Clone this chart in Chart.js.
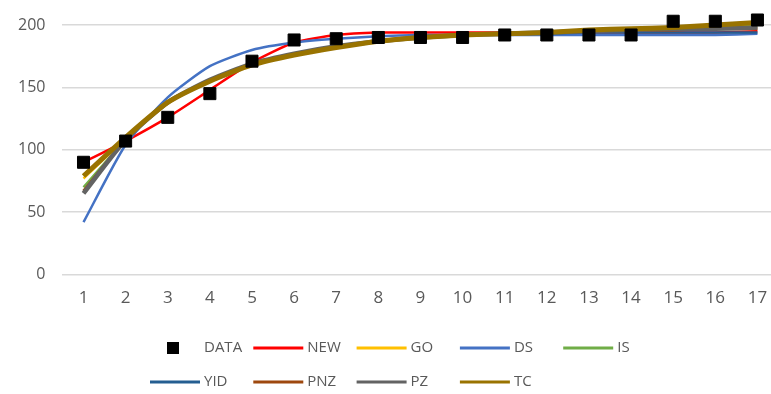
<!DOCTYPE html>
<html>
<head>
<meta charset="utf-8">
<script src="https://cdn.jsdelivr.net/npm/chart.js@4/dist/chart.umd.min.js"></script>
<style>
  html, body { margin: 0; padding: 0; background: #fff; overflow: hidden; }
  #wrap { width: 788px; height: 394px; }
</style>
</head>
<body>
<div id="wrap"><canvas id="myChart"></canvas></div>
<script>
const labels = ['1', '2', '3', '4', '5', '6', '7', '8', '9', '10', '11', '12', '13', '14', '15', '16', '17'];
const yTicks = [0, 50, 100, 150, 200];

const dataPts = [90, 107, 126, 145, 171, 188, 189, 190, 190, 190, 192, 192, 192, 192, 203, 203, 204];
const newFit = [90, 107, 126, 148, 170, 186, 192, 194, 194, 194, 194, 194, 194, 194, 194, 194, 195];
const goFit = [77, 109, 138, 155, 168, 176, 182, 187, 190, 192, 193, 194, 195, 196, 197, 199, 201];
const dsFit = [42, 104, 142, 167, 180, 186, 189, 191, 192, 192, 192, 192, 192, 192, 192, 192, 193];
const isFit = [70, 108, 138, 155, 168, 176, 182, 187, 190, 192, 193, 194, 195, 196, 197, 198, 199];
const yidFit = [66, 108, 138, 156, 169, 177, 183, 187, 190, 192, 193, 193, 194, 194, 194, 194, 194];
const pnzFit = [67, 108, 138, 155, 168, 176, 182, 187, 190, 192, 193, 194, 195, 196, 196, 197, 197];
const pzFit = [65, 108, 138, 156, 169, 177, 183, 187, 190, 192, 193, 194, 195, 196, 197, 197, 198];
const tcFit = [79, 110, 138, 155, 168, 176, 182, 187, 190, 192, 193, 194, 196, 197, 198, 200, 202];

Chart.defaults.font.family = "'Open Sans', 'Liberation Sans', sans-serif";
Chart.defaults.color = '#595959';

function fitLine(label, data, color, width, order) {
    return {
        label: label,
        data: data,
        borderColor: color,
        backgroundColor: color,
        borderWidth: width,
        pointRadius: 0,
        tension: 0.2,
        clip: false,
        order: order,
    };
}

// Excel style legend: two rows on a fixed column grid
const legendGrid = {
    id: 'legendGrid',
    afterDraw(chart) {
        const ctx = chart.ctx;
        ctx.save();
        ctx.font = "15px 'Open Sans', 'Liberation Sans', sans-serif";
        ctx.textBaseline = 'middle';
        chart.data.datasets.forEach((ds, i) => {
            const row = i < 5 ? 0 : 1;
            const col = i < 5 ? i : i - 5;
            const x = 150 + col * 103.3;
            const y = row === 0 ? 348 : 382;
            if (ds.showLine === false) {
                ctx.fillStyle = ds.backgroundColor;
                ctx.fillRect(x + 17, y - 6, 12, 12);
            } else {
                ctx.strokeStyle = ds.borderColor;
                ctx.lineWidth = 3;
                ctx.beginPath();
                ctx.moveTo(x, y);
                ctx.lineTo(x + 50, y);
                ctx.stroke();
            }
            ctx.fillStyle = '#595959';
            ctx.fillText(ds.label, x + 54, y);
        });
        ctx.restore();
    }
};

const chartDemo = new Chart(document.getElementById('myChart'), {
    type: 'line',
    data: {
        labels: labels,
        datasets: [
            {
                label: 'DATA',
                data: dataPts,
                showLine: false,
                pointStyle: 'rect',
                pointRadius: 8.5,
                backgroundColor: '#000000',
                borderColor: '#000000',
                clip: false,
                order: 0,
            },
            fitLine('NEW', newFit, '#ff0000', 2.5, 9),
            fitLine('GO', goFit, '#ffc000', 2.5, 8),
            fitLine('DS', dsFit, '#4472c4', 2.5, 7),
            fitLine('IS', isFit, '#70ad47', 2.5, 6),
            fitLine('YID', yidFit, '#255e91', 2.5, 5),
            fitLine('PNZ', pnzFit, '#9e480e', 3, 4),
            fitLine('PZ', pzFit, '#636363', 4.5, 3),
            fitLine('TC', tcFit, '#997300', 5, 2),
        ]
    },
    plugins: [legendGrid],
    options: {
        responsive: true,
        maintainAspectRatio: false,
        animation: false,
        layout: {
            padding: { left: 1, right: 0, top: 0, bottom: 73 }
        },
        plugins: {
            legend: { display: false },
            tooltip: { enabled: false },
        },
        scales: {
            x: {
                offset: true,
                grid: { display: false, drawTicks: false },
                border: { display: false },
                ticks: { padding: 13, font: { size: 17 }, maxRotation: 0 },
            },
            y: {
                min: 0,
                max: 200,
                afterBuildTicks: (axis) => { axis.ticks = yTicks.map(v => ({ value: v })); },
                grid: { color: '#d9d9d9', lineWidth: 1.5, drawTicks: false },
                border: { display: false },
                ticks: { padding: 17, font: { size: 16, lineHeight: 1 } },
            }
        }
    }
});
</script>
</body>
</html>
